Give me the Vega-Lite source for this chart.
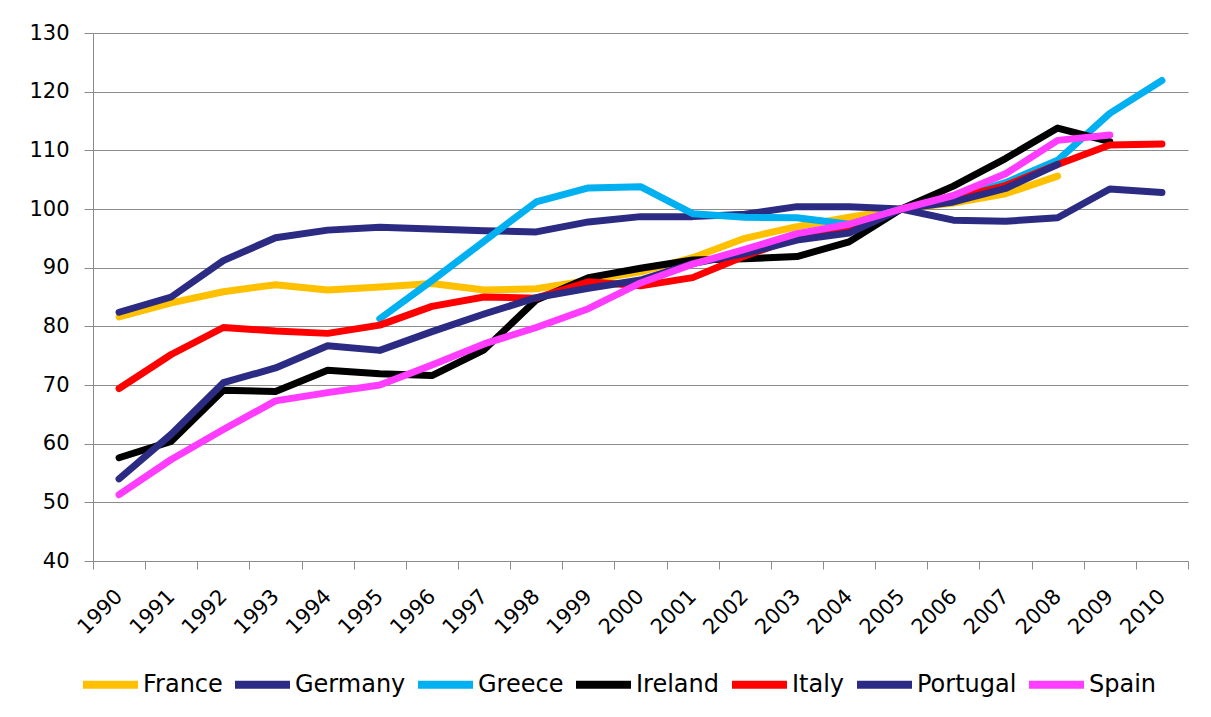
{
  "$schema": "https://vega.github.io/schema/vega-lite/v6.json",
  "width": 1095,
  "height": 528,
  "autosize": {"type": "none"},
  "padding": {"left": 93, "top": 33, "right": 23, "bottom": 156},
  "background": "white",
  "config": {
    "view": {"stroke": null},
    "font": "DejaVu Sans"
  },
  "datasets": {
    "series": [
      {"country": "France", "year": 1990, "value": 81.6},
      {"country": "France", "year": 1991, "value": 84.0},
      {"country": "France", "year": 1992, "value": 85.9},
      {"country": "France", "year": 1993, "value": 87.1},
      {"country": "France", "year": 1994, "value": 86.2},
      {"country": "France", "year": 1995, "value": 86.7},
      {"country": "France", "year": 1996, "value": 87.3},
      {"country": "France", "year": 1997, "value": 86.2},
      {"country": "France", "year": 1998, "value": 86.4},
      {"country": "France", "year": 1999, "value": 87.8},
      {"country": "France", "year": 2000, "value": 89.3},
      {"country": "France", "year": 2001, "value": 91.7},
      {"country": "France", "year": 2002, "value": 95.0},
      {"country": "France", "year": 2003, "value": 97.0},
      {"country": "France", "year": 2004, "value": 98.6},
      {"country": "France", "year": 2005, "value": 100.0},
      {"country": "France", "year": 2006, "value": 101.0},
      {"country": "France", "year": 2007, "value": 102.6},
      {"country": "France", "year": 2008, "value": 105.6},

      {"country": "Germany", "year": 1990, "value": 82.4},
      {"country": "Germany", "year": 1991, "value": 85.0},
      {"country": "Germany", "year": 1992, "value": 91.2},
      {"country": "Germany", "year": 1993, "value": 95.1},
      {"country": "Germany", "year": 1994, "value": 96.4},
      {"country": "Germany", "year": 1995, "value": 96.9},
      {"country": "Germany", "year": 1996, "value": 96.6},
      {"country": "Germany", "year": 1997, "value": 96.3},
      {"country": "Germany", "year": 1998, "value": 96.1},
      {"country": "Germany", "year": 1999, "value": 97.8},
      {"country": "Germany", "year": 2000, "value": 98.7},
      {"country": "Germany", "year": 2001, "value": 98.7},
      {"country": "Germany", "year": 2002, "value": 99.1},
      {"country": "Germany", "year": 2003, "value": 100.4},
      {"country": "Germany", "year": 2004, "value": 100.4},
      {"country": "Germany", "year": 2005, "value": 100.0},
      {"country": "Germany", "year": 2006, "value": 98.1},
      {"country": "Germany", "year": 2007, "value": 97.9},
      {"country": "Germany", "year": 2008, "value": 98.5},
      {"country": "Germany", "year": 2009, "value": 103.4},
      {"country": "Germany", "year": 2010, "value": 102.8},

      {"country": "Greece", "year": 1995, "value": 81.3},
      {"country": "Greece", "year": 1996, "value": 87.8},
      {"country": "Greece", "year": 1997, "value": 94.5},
      {"country": "Greece", "year": 1998, "value": 101.2},
      {"country": "Greece", "year": 1999, "value": 103.6},
      {"country": "Greece", "year": 2000, "value": 103.8},
      {"country": "Greece", "year": 2001, "value": 99.2},
      {"country": "Greece", "year": 2002, "value": 98.6},
      {"country": "Greece", "year": 2003, "value": 98.5},
      {"country": "Greece", "year": 2004, "value": 97.4},
      {"country": "Greece", "year": 2005, "value": 100.0},
      {"country": "Greece", "year": 2006, "value": 101.8},
      {"country": "Greece", "year": 2007, "value": 104.5},
      {"country": "Greece", "year": 2008, "value": 108.3},
      {"country": "Greece", "year": 2009, "value": 116.3},
      {"country": "Greece", "year": 2010, "value": 121.9},

      {"country": "Ireland", "year": 1990, "value": 57.6},
      {"country": "Ireland", "year": 1991, "value": 60.4},
      {"country": "Ireland", "year": 1992, "value": 69.1},
      {"country": "Ireland", "year": 1993, "value": 68.9},
      {"country": "Ireland", "year": 1994, "value": 72.5},
      {"country": "Ireland", "year": 1995, "value": 71.9},
      {"country": "Ireland", "year": 1996, "value": 71.6},
      {"country": "Ireland", "year": 1997, "value": 76.0},
      {"country": "Ireland", "year": 1998, "value": 84.5},
      {"country": "Ireland", "year": 1999, "value": 88.3},
      {"country": "Ireland", "year": 2000, "value": 89.9},
      {"country": "Ireland", "year": 2001, "value": 91.3},
      {"country": "Ireland", "year": 2002, "value": 91.5},
      {"country": "Ireland", "year": 2003, "value": 91.9},
      {"country": "Ireland", "year": 2004, "value": 94.4},
      {"country": "Ireland", "year": 2005, "value": 100.0},
      {"country": "Ireland", "year": 2006, "value": 103.9},
      {"country": "Ireland", "year": 2007, "value": 108.6},
      {"country": "Ireland", "year": 2008, "value": 113.8},
      {"country": "Ireland", "year": 2009, "value": 111.5},

      {"country": "Italy", "year": 1990, "value": 69.4},
      {"country": "Italy", "year": 1991, "value": 75.2},
      {"country": "Italy", "year": 1992, "value": 79.8},
      {"country": "Italy", "year": 1993, "value": 79.2},
      {"country": "Italy", "year": 1994, "value": 78.8},
      {"country": "Italy", "year": 1995, "value": 80.2},
      {"country": "Italy", "year": 1996, "value": 83.4},
      {"country": "Italy", "year": 1997, "value": 85.0},
      {"country": "Italy", "year": 1998, "value": 84.8},
      {"country": "Italy", "year": 1999, "value": 87.6},
      {"country": "Italy", "year": 2000, "value": 86.9},
      {"country": "Italy", "year": 2001, "value": 88.3},
      {"country": "Italy", "year": 2002, "value": 92.0},
      {"country": "Italy", "year": 2003, "value": 95.1},
      {"country": "Italy", "year": 2004, "value": 96.5},
      {"country": "Italy", "year": 2005, "value": 100.0},
      {"country": "Italy", "year": 2006, "value": 101.8},
      {"country": "Italy", "year": 2007, "value": 104.0},
      {"country": "Italy", "year": 2008, "value": 107.6},
      {"country": "Italy", "year": 2009, "value": 110.9},
      {"country": "Italy", "year": 2010, "value": 111.1},

      {"country": "Portugal", "year": 1990, "value": 54.0},
      {"country": "Portugal", "year": 1991, "value": 61.6},
      {"country": "Portugal", "year": 1992, "value": 70.4},
      {"country": "Portugal", "year": 1993, "value": 72.9},
      {"country": "Portugal", "year": 1994, "value": 76.7},
      {"country": "Portugal", "year": 1995, "value": 75.9},
      {"country": "Portugal", "year": 1996, "value": 79.1},
      {"country": "Portugal", "year": 1997, "value": 82.1},
      {"country": "Portugal", "year": 1998, "value": 84.9},
      {"country": "Portugal", "year": 1999, "value": 86.5},
      {"country": "Portugal", "year": 2000, "value": 87.9},
      {"country": "Portugal", "year": 2001, "value": 90.7},
      {"country": "Portugal", "year": 2002, "value": 92.4},
      {"country": "Portugal", "year": 2003, "value": 94.7},
      {"country": "Portugal", "year": 2004, "value": 95.9},
      {"country": "Portugal", "year": 2005, "value": 100.0},
      {"country": "Portugal", "year": 2006, "value": 101.2},
      {"country": "Portugal", "year": 2007, "value": 103.5},
      {"country": "Portugal", "year": 2008, "value": 107.6},

      {"country": "Spain", "year": 1990, "value": 51.3},
      {"country": "Spain", "year": 1991, "value": 57.3},
      {"country": "Spain", "year": 1992, "value": 62.4},
      {"country": "Spain", "year": 1993, "value": 67.3},
      {"country": "Spain", "year": 1994, "value": 68.7},
      {"country": "Spain", "year": 1995, "value": 70.0},
      {"country": "Spain", "year": 1996, "value": 73.4},
      {"country": "Spain", "year": 1997, "value": 77.0},
      {"country": "Spain", "year": 1998, "value": 79.8},
      {"country": "Spain", "year": 1999, "value": 83.0},
      {"country": "Spain", "year": 2000, "value": 87.4},
      {"country": "Spain", "year": 2001, "value": 90.6},
      {"country": "Spain", "year": 2002, "value": 93.1},
      {"country": "Spain", "year": 2003, "value": 95.8},
      {"country": "Spain", "year": 2004, "value": 97.4},
      {"country": "Spain", "year": 2005, "value": 100.0},
      {"country": "Spain", "year": 2006, "value": 102.3},
      {"country": "Spain", "year": 2007, "value": 106.0},
      {"country": "Spain", "year": 2008, "value": 111.7},
      {"country": "Spain", "year": 2009, "value": 112.6}
    ]
  },
  "data": {"name": "series"},
  "mark": {"type": "line", "strokeWidth": 7, "strokeCap": "round", "strokeJoin": "round"},
  "encoding": {
    "x": {
      "field": "year",
      "type": "ordinal",
      "bandPosition": 0.5,
      "scale": {"type": "band", "paddingInner": 0, "paddingOuter": 0},
      "axis": {
        "title": null,
        "grid": false,
        "tickBand": "extent",
        "domainColor": "#8c8c8c",
        "tickColor": "#8c8c8c",
        "tickSize": 8,
        "labelAngle": -45,
        "labelAlign": "right",
        "labelBaseline": "middle",
        "labelPadding": 24,
        "labelFontSize": 21,
        "labelFont": "DejaVu Sans",
        "labelColor": "#000000"
      }
    },
    "y": {
      "field": "value",
      "type": "quantitative",
      "scale": {"domain": [40, 130], "nice": false, "zero": false},
      "axis": {
        "title": null,
        "values": [40, 50, 60, 70, 80, 90, 100, 110, 120, 130],
        "grid": true,
        "gridColor": "#8c8c8c",
        "gridWidth": 1,
        "domainColor": "#8c8c8c",
        "tickColor": "#8c8c8c",
        "tickSize": 9,
        "labelPadding": 15,
        "labelFontSize": 21,
        "labelFont": "DejaVu Sans",
        "labelColor": "#000000"
      }
    },
    "color": {
      "field": "country",
      "type": "nominal",
      "scale": {
        "domain": ["France", "Germany", "Greece", "Ireland", "Italy", "Portugal", "Spain"],
        "range": ["#FFC000", "#2B2B83", "#00B0F0", "#000000", "#FF0000", "#2B2B83", "#FF3CFF"]
      },
      "legend": {
        "title": null,
        "orient": "none",
        "direction": "horizontal",
        "columns": 7,
        "legendX": -14,
        "legendY": 620,
        "symbolType": "stroke",
        "symbolSize": 3025,
        "symbolStrokeWidth": 8,
        "labelFontSize": 24,
        "labelFont": "DejaVu Sans",
        "labelColor": "#000000",
        "labelOffset": 1,
        "columnPadding": -4
      }
    }
  }
}
